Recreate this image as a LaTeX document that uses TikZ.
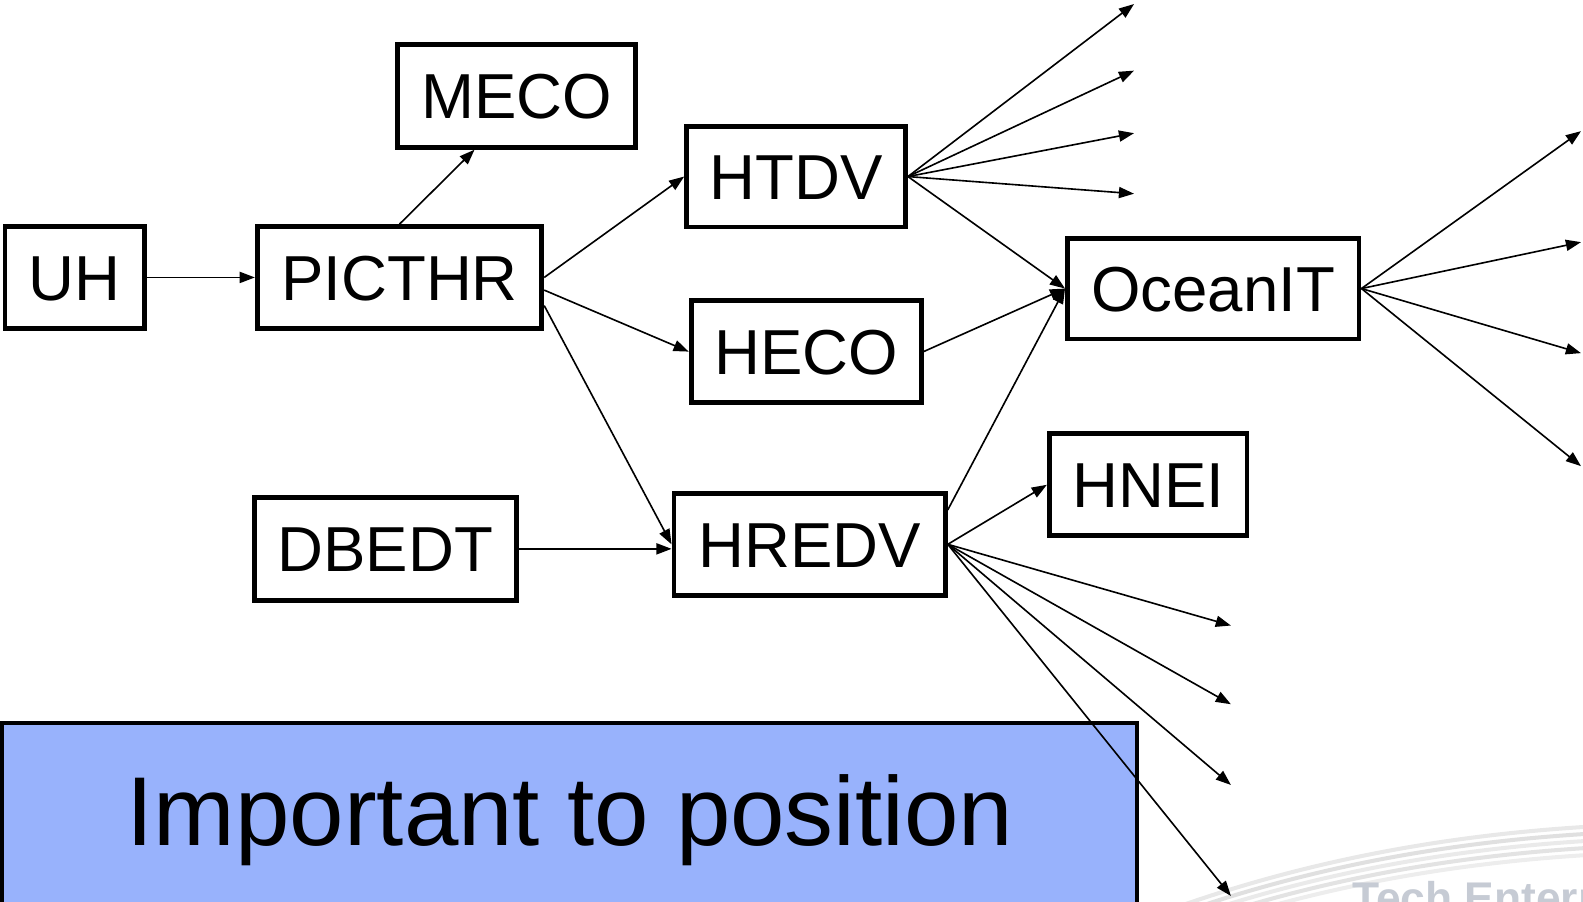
\documentclass[tikz,border=0pt]{standalone}
\usepackage{fontspec}
\setmainfont{Liberation Sans}
\usetikzlibrary{arrows.meta,calc}
\definecolor{noteblue}{RGB}{152,178,252}
\definecolor{logogray}{RGB}{198,203,212}
\begin{document}
\begin{tikzpicture}[x=1pt,y=-1pt,
  box/.style={draw=black, line width=4.8pt, fill=white, inner sep=0pt,
    font=\fontsize{63}{72}\selectfont, text height=45pt, text depth=0pt},
  link/.style={line width=1.6pt, -{Triangle[length=15pt,width=11pt]}},
  ]
\useasboundingbox (0,0) rectangle (1569,894);
\begin{scope}
\clip (0,0) rectangle (1569,894);
% background swoosh
\foreach \d/\c in {0/18,7/24,14/16,21/22,28/14}{
  \draw[line width=4pt, draw=black!\c, opacity=0.5]
    (1150,{905+\d}) .. controls (1300,{850+\d}) and (1450,{825+\d}) .. (1600,{818+\d});
}
\node[font=\bfseries\fontsize{44}{50}\selectfont, text=logogray, anchor=base west, inner sep=0pt]
  (logo) at (1340,905) {Tech Enterprise};
% note box
\node[draw=black, line width=4pt, fill=noteblue, minimum width=1125pt, minimum height=240pt,
  anchor=north west, inner sep=0pt] (note) at (0,715) {};
\node[font=\fontsize{97}{116}\selectfont, anchor=base, inner sep=0pt] (notetext) at (565,838) {Important to position};
\end{scope}

% boxes
\node[box, minimum width=138pt, minimum height=101pt] (uh)    at (74,275)    {UH};
\node[box, minimum width=282pt, minimum height=101pt] (pic)   at (396,275)   {PICTHR};
\node[box, minimum width=236pt, minimum height=102pt] (meco)  at (512,95)    {MECO};
\node[box, minimum width=217pt, minimum height=100pt] (htdv)  at (789,175)   {HTDV};
\node[box, minimum width=228pt, minimum height=101pt] (heco)  at (799,348.5) {HECO};
\node[box, minimum width=260pt, minimum height=102pt] (dbedt) at (382,544)   {DBEDT};
\node[box, minimum width=269pt, minimum height=101pt] (hredv) at (802.5,539.5) {HREDV};
\node[box, minimum width=289pt, minimum height=100pt] (ocean) at (1202.5,286) {OceanIT};
\node[box, minimum width=196pt, minimum height=101pt] (hnei)  at (1138,480.5) {HNEI};

% free ends
\coordinate (h1) at (1124,4);
\coordinate (h2) at (1124,70);
\coordinate (h3) at (1124,132);
\coordinate (h4) at (1124,192);
\coordinate (o1) at (1567,130);
\coordinate (o2) at (1567,240);
\coordinate (o3) at (1567,350);
\coordinate (o4) at (1567,462);
\coordinate (r1) at (1220,620);
\coordinate (r2) at (1220,698);
\coordinate (r3) at (1220,778);
\coordinate (r4) at (1220,888);

% connectors
\draw[link] (uh.east) -- (pic.west);
\draw[link] (pic.north) -- (meco.232);
\draw[link] (pic.east) -- (htdv.west);
\draw[link] (pic.-5) -- (heco.west);
\draw[link] (pic.-11) -- (hredv.west);
\draw[link] (dbedt.east) -- (dbedt.east -| hredv.west);
\foreach \t in {h1,h2,h3,h4} \draw[link] (htdv.east) -- (\t);
\draw[link] (htdv.east) -- (ocean.west);
\draw[link] (heco.east) -- (ocean.west);
\draw[link] (hredv.14) -- (ocean.west);
\draw[link] (hredv.east) -- (hnei.west);
\foreach \t in {r1,r2,r3,r4} \draw[link] (hredv.east) -- (\t);
\foreach \t in {o1,o2,o3,o4} \draw[link] (ocean.east) -- (\t);
\end{tikzpicture}
\end{document}
